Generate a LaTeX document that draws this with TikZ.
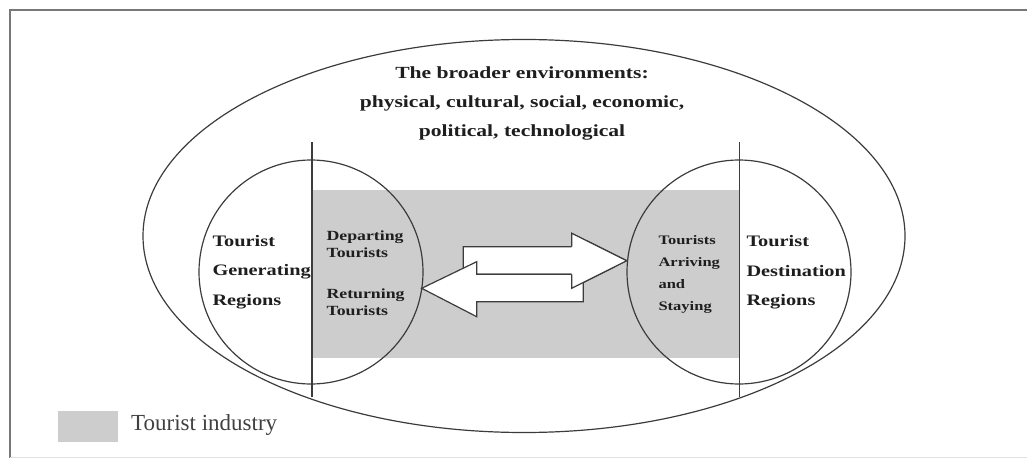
\documentclass[tikz,border=0pt]{standalone}
\usepackage{fontspec}
\setmainfont{Liberation Serif}
\newfontfamily\labelfont{Liberation Serif}[FakeStretch=1.27]
\usetikzlibrary{shapes.geometric}
\definecolor{linegray}{RGB}{60,60,60}
\definecolor{industry}{RGB}{205,205,205}
\definecolor{framegray}{RGB}{120,120,120}
\definecolor{inkblack}{RGB}{30,30,30}
\begin{document}
\begin{tikzpicture}[x=1pt,y=-1pt,
  outline/.style={draw=linegray, line width=1.2pt},
  region/.style={outline, circle, minimum size=224pt, inner sep=0pt},
  blockarrow/.style={outline, fill=white, line join=miter},
  biglabel/.style={text=inkblack, align=left, anchor=west,
    font=\labelfont\bfseries\fontsize{16}{29.5}\selectfont},
  smalllabel/.style={text=inkblack, align=left, anchor=west,
    font=\labelfont\bfseries\fontsize{14}{17}\selectfont},
]
\useasboundingbox (0,0) rectangle (1027,460);

% page frame
\draw[framegray, line width=2pt] (10,458) -- (10,10) -- (1027,10);
\draw[black!12, line width=1pt] (10,457.5) -- (1027,457.5);

% tourist industry band
\fill[industry] (312,190) rectangle (739.5,358);

% broader environment and the two regions
\node[outline, ellipse, minimum width=762pt, minimum height=393pt, inner sep=0pt] (env) at (524,236) {};
\node[region] (gen) at (311,272) {};
\node[region] (dest) at (739,272) {};

% region boundaries
\coordinate (gentop) at (312,142);
\coordinate (genbot) at (312,397);
\coordinate (desttop) at (739.5,142);
\coordinate (destbot) at (739.5,397);
\draw[outline] (gentop) -- (genbot);
\draw[outline] (desttop) -- (destbot);

% outbound flow (to destination)
\draw[blockarrow] (463.3,246.7) -- (571.7,246.7) -- (571.7,233.3) -- (626.7,260.7)
  -- (571.7,288.3) -- (571.7,274.3) -- (463.3,274.3) -- cycle;
% return flow (to generating region)
\draw[blockarrow] (421.7,288.3) -- (476.7,261.7) -- (476.7,274.3) -- (583.3,274.3)
  -- (583.3,301.7) -- (476.7,301.7) -- (476.7,316.7) -- cycle;
% outbound head sits on top of the return shaft
\fill[white] (571.7,233.3) -- (626.7,260.7) -- (571.7,288.3) -- cycle;
\draw[outline, line join=miter] (571.7,246.7) -- (571.7,233.3) -- (626.7,260.7)
  -- (571.7,288.3) -- (571.7,274.3);

% texts
\node[text=inkblack, align=center,
  font=\labelfont\bfseries\fontsize{17}{29}\selectfont] (title) at (522,103)
  {The broader environments:\\physical, cultural, social, economic,\\political, technological};
\node[biglabel] (genlabel) at (209,272) {Tourist\\Generating\\Regions};
\node[smalllabel] (depart) at (323,244) {Departing\\Tourists};
\node[smalllabel] (return) at (323,302) {Returning\\Tourists};
\node[text=inkblack, align=left, anchor=west,
  font=\labelfont\bfseries\fontsize{13}{22}\selectfont] (arrive) at (655,274)
  {Tourists\\Arriving\\and\\Staying};
\node[biglabel] (destlabel) at (743,272.5) {Tourist\\Destination\\Regions};

% legend
\node[fill=industry, minimum width=60pt, minimum height=31pt, inner sep=0pt] (key) at (88,426.5) {};
\node[text=inkblack!85, anchor=west, inner sep=0pt,
  font=\fontsize{23}{26}\selectfont] (keytext) at (131,425) {Tourist industry};
\end{tikzpicture}
\end{document}
